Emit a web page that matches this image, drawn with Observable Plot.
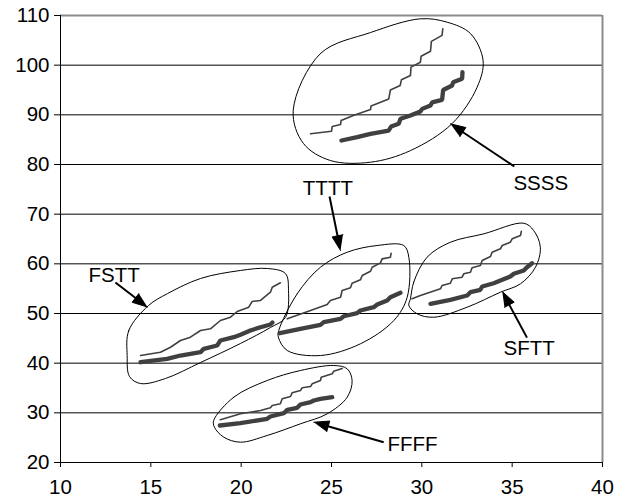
<!DOCTYPE html>
<html><head><meta charset="utf-8">
<script src="https://cdn.jsdelivr.net/npm/d3@7"></script>
<script src="https://cdn.jsdelivr.net/npm/@observablehq/plot@0.6"></script>
<style>body{margin:0;background:#fff}</style>
</head><body><div id="chart"></div>
<script>
// ---- axis values ----
const xTicks = [10, 15, 20, 25, 30, 35, 40];
const yTicks = [20, 30, 40, 50, 60, 70, 80, 90, 100, 110];
const gridLines = [30, 40, 50, 60, 70, 80, 90, 100];

// ---- series (x, y) ----
const ssssThin = [[23.84,86.18],[25.0,86.7],[25.04,87.65],[25.5,88.05],[25.53,88.85],[26.21,89.86],[27.16,91.07],[27.19,91.8],[28.17,93.2],[28.26,95.0],[28.8,95.9],[28.87,97.05],[29.37,97.9],[29.4,99.6],[29.92,100.6],[29.96,101.8],[30.48,102.8],[30.53,104.8],[31.12,106.0],[31.16,107.3]];
const ssssThick = [[25.55,84.83],[26.42,85.5],[27.16,86.18],[28.17,86.84],[28.3,87.65],[28.72,88.2],[28.82,89.2],[29.37,89.86],[29.92,90.67],[30.02,91.2],[30.48,91.9],[30.57,92.5],[31.12,93.0],[31.18,95.0],[31.68,95.9],[31.73,96.57],[32.23,97.25],[32.25,98.58]];
const ttttThin = [[22.55,48.93],[23.84,50.6],[24.76,51.81],[24.94,52.62],[25.5,53.28],[25.59,54.63],[26.05,55.17],[26.14,56.1],[26.6,56.78],[26.7,57.65],[27.16,58.51],[27.25,59.32],[27.71,60.2],[27.8,61.0],[28.26,61.33],[28.3,62.14]];
const ttttThick = [[22.14,46.03],[23.28,46.92],[24.39,47.72],[24.57,48.25],[25.5,48.93],[25.68,49.45],[26.42,50.06],[26.6,50.6],[27.34,51.27],[27.53,51.81],[28.08,52.62],[28.26,53.28],[28.82,54.17]];
const fsttThin = [[14.43,41.54],[15.53,42.2],[16.09,43.21],[16.64,44.56],[17.19,45.23],[17.75,46.58],[18.3,46.92],[18.85,48.59],[19.41,49.25],[19.78,50.4],[20.42,51.27],[20.6,52.41],[21.07,52.62],[21.62,54.29],[21.72,55.3],[22.17,56.18]];
const fsttThick = [[14.43,40.19],[15.9,40.88],[16.64,41.54],[17.75,42.2],[17.93,42.89],[18.67,43.56],[18.85,44.56],[19.59,45.23],[19.96,45.71],[20.51,46.58],[21.07,47.24],[21.62,47.78],[21.73,48.19]];
const sfttThin = [[29.46,52.96],[29.92,53.62],[31.03,54.97],[31.12,55.64],[31.58,56.1],[31.68,56.98],[32.23,57.31],[32.32,57.99],[32.69,58.31],[32.78,59.2],[33.24,59.66],[33.34,60.67],[33.8,61.47],[33.89,62.34],[34.35,63.02],[34.45,63.69],[34.9,64.35],[35.0,65.04],[35.46,65.7],[35.51,66.57]];
const sfttThick = [[30.48,51.95],[31.58,52.76],[32.51,53.62],[32.69,54.29],[33.24,54.77],[33.34,55.44],[33.98,56.1],[34.35,56.64],[34.9,57.45],[35.09,57.99],[35.64,58.66],[35.82,59.32],[36.1,60.12]];
const ffffThin = [[18.85,28.6],[19.96,29.8],[21.07,30.47],[21.62,31.01],[21.72,31.48],[22.17,31.82],[22.27,32.82],[22.73,33.29],[22.82,34.03],[23.28,34.5],[23.38,35.04],[23.84,35.3],[23.93,35.84],[24.39,36.51],[24.43,37.17],[25.04,37.86],[25.12,38.38],[25.59,38.93]];
const ffffThick = [[18.82,27.45],[19.96,27.91],[21.44,28.8],[21.62,29.26],[22.36,29.93],[22.55,30.61],[23.1,31.01],[23.28,31.68],[23.84,32.14],[24.02,32.48],[24.39,32.82],[25.04,33.15]];

// ---- hand-drawn loops around each group ----
const ssssLoop = [[22.88,90.87],[24.39,102.35],[27.16,106.57],[29.92,109.33],[31.4,108.65],[32.69,106.37],[33.39,100.94],[33.06,95.56],[31.68,88.25],[29.37,82.8],[27.16,80.46],[24.94,80.8],[23.45,84.22]];
const ttttLoop = [[22.08,46.58],[23.1,53.96],[24.39,59.32],[25.87,62.34],[27.53,63.69],[29.0,63.69],[29.28,61.33],[29.19,53.28],[28.45,48.59],[26.6,43.9],[24.39,41.54],[22.55,42.55],[22.06,45.23]];
const fsttLoop = [[13.69,41.54],[13.78,46.58],[14.87,51.6],[15.92,54.0],[17.75,57.05],[19.96,58.66],[21.46,59.06],[22.45,58.05],[22.62,54.63],[22.45,49.19],[21.62,47.18],[19.96,43.96],[17.75,40.13],[15.81,36.91],[14.43,35.9],[13.82,37.31]];
const sfttLoop = [[29.37,52.96],[29.55,56.3],[30.29,61.33],[31.58,64.35],[33.43,66.04],[35.64,68.18],[36.19,66.71],[36.56,63.35],[36.29,59.32],[35.46,55.98],[34.35,54.29],[32.51,51.27],[30.66,49.25],[29.74,49.94],[29.28,51.61]];
const ffffLoop = [[18.48,28.46],[19.59,33.15],[21.44,36.51],[23.28,38.52],[25.12,39.53],[25.87,38.86],[26.14,36.51],[25.87,33.15],[24.76,29.8],[23.28,27.79],[21.44,25.44],[19.96,24.09],[19.04,25.09],[18.52,27.11]];

// ---- labels and arrows ----
const labelNames = ["SSSS", "TTTT", "FSTT", "SFTT", "FFFF"];
const labelX = [35.07, 24.8, 11.55, 34.52, 28.1];
const labelY = [76.17, 75.2, 57.65, 43.05, 23.62];
const labelAnchor = ["start", "middle", "start", "start", "start"];
const arrowTail = [[35.12,79.6],[24.89,73.55],[13.04,56.24],[35.82,45.14],[27.89,24.09]];
const arrowTip = [[31.58,88.19],[25.5,62.68],[14.81,51.3],[34.45,54.42],[24.02,28.11]];

// ---- layout ----
const W = 624, H = 500, mL = 60, mR = 22, mT = 15, mB = 38;
const xDom = [10, 40], yDom = [20, 110];
const sx = (W - mL - mR) / (xDom[1] - xDom[0]);
const sy = (H - mT - mB) / (yDom[1] - yDom[0]);

const rows = (pairs, id) => pairs.map(([x, y]) => ({x, y, id}));
const thin = [["ssss", ssssThin], ["tttt", ttttThin], ["fstt", fsttThin], ["sftt", sfttThin], ["ffff", ffffThin]].flatMap(([k, p]) => rows(p, k));
const thick = [["ssss", ssssThick], ["tttt", ttttThick], ["fstt", fsttThick], ["sftt", sfttThick], ["ffff", ffffThick]].flatMap(([k, p]) => rows(p, k));
const loops = [["ssss", ssssLoop], ["tttt", ttttLoop], ["fstt", fsttLoop], ["sftt", sfttLoop], ["ffff", ffffLoop]];
const labels = labelNames.map((t, i) => ({t, x: labelX[i], y: labelY[i], a: labelAnchor[i]}));

const L = 15, HW = 5.5;
const shafts = [], heads = [];
arrowTail.forEach(([x1, y1], i) => {
  const [x2, y2] = arrowTip[i];
  const dx = (x2 - x1) * sx, dy = -(y2 - y1) * sy;
  const len = Math.hypot(dx, dy), ux = dx / len, uy = dy / len, nx = -uy, ny = ux;
  shafts.push({x1, y1, x2: x2 - 0.8 * L * ux / sx, y2: y2 + 0.8 * L * uy / sy});
  [[0, 0], [-L * ux + HW * nx, -L * uy + HW * ny], [-L * ux - HW * nx, -L * uy - HW * ny]]
    .forEach(([px, py]) => heads.push({x: x2 + px / sx, y: y2 - py / sy, id: i}));
});

const font = "'Liberation Sans', Arial, Helvetica, sans-serif";
const fs = 20.5;

const chart = Plot.plot({
  width: W, height: H,
  marginLeft: mL, marginRight: mR, marginTop: mT, marginBottom: mB,
  style: {fontFamily: font, fontSize: fs + "px", color: "black", background: "white", overflow: "visible"},
  x: {domain: xDom, ticks: xTicks, tickSize: 5, tickPadding: 12, tickFormat: d => d, label: null},
  y: {domain: yDom, ticks: yTicks, tickSize: 6, tickPadding: 5, tickFormat: d => d, label: null},
  marks: [
    Plot.ruleY(gridLines, {stroke: "#000", strokeWidth: 1}),
    Plot.ruleY([yDom[1]], {stroke: "#8c8c8c", strokeWidth: 2}),
    Plot.ruleX([xDom[1]], {stroke: "#8c8c8c", strokeWidth: 2}),
    Plot.ruleX([xDom[0]], {stroke: "#000", strokeWidth: 1}),
    Plot.ruleY([yDom[0]], {stroke: "#000", strokeWidth: 1}),
    ...loops.map(([k, p]) => Plot.line(rows(p, k), {x: "x", y: "y", curve: "catmull-rom-closed", stroke: "#000", strokeWidth: 1})),
    Plot.line(thin, {x: "x", y: "y", z: "id", stroke: "#404040", strokeWidth: 1.6}),
    Plot.line(thick, {x: "x", y: "y", z: "id", stroke: "#404040", strokeWidth: 4.3, strokeLinejoin: "miter"}),
    Plot.link(shafts, {x1: "x1", y1: "y1", x2: "x2", y2: "y2", stroke: "#000", strokeWidth: 2}),
    Plot.line(heads, {x: "x", y: "y", z: "id", fill: "#000", stroke: "#000", strokeWidth: 1}),
    Plot.text(labels.filter(d => d.a === "start"), {x: "x", y: "y", text: "t", textAnchor: "start", fill: "#000", fontSize: fs}),
    Plot.text(labels.filter(d => d.a === "middle"), {x: "x", y: "y", text: "t", textAnchor: "middle", fill: "#000", fontSize: fs})
  ]
});
document.getElementById("chart").appendChild(chart);
</script>
</body></html>
